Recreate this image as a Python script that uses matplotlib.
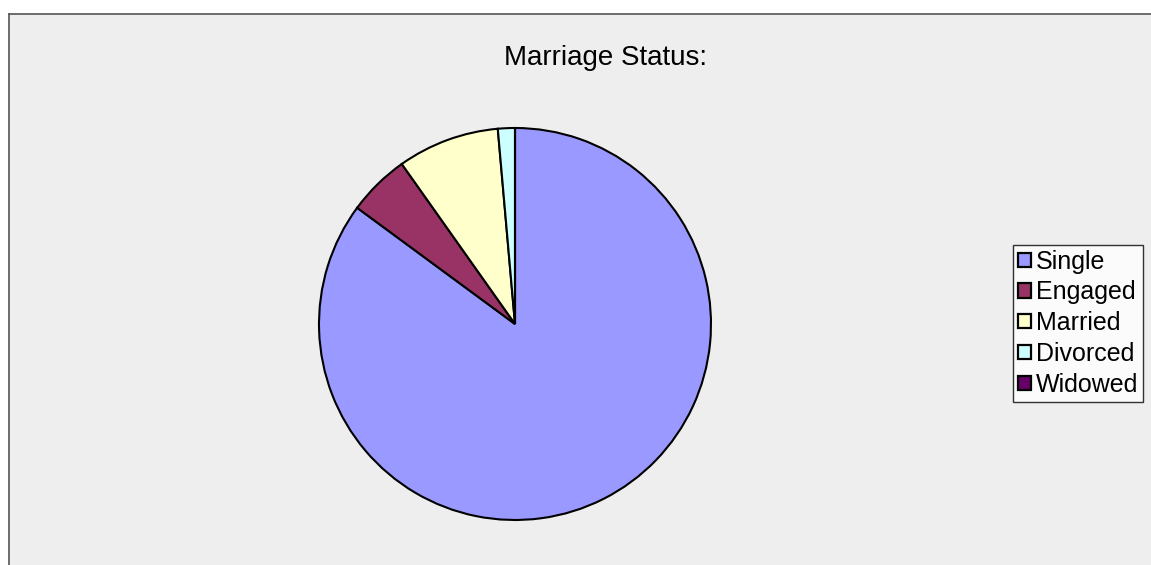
import matplotlib
matplotlib.use("Agg")
import matplotlib.pyplot as plt
from matplotlib.patches import Patch

plt.rcParams['font.family'] = ['Liberation Sans', 'DejaVu Sans']

# Marriage status shares (percent)
labels = ['Single', 'Engaged', 'Married', 'Divorced', 'Widowed']
shares = [85.1, 5.1, 8.4, 1.4, 0.0]
colors = ['#9999FF', '#993366', '#FFFFCC', '#CCFFFF', '#660066']

W, H = 1151, 565
fig = plt.figure(figsize=(W / 100, H / 100), dpi=100)
fig.patch.set_facecolor('white')

# chart area background with left and top border
bg = fig.add_axes([9 / W, 0, 1, 1 - 14 / H])
bg.set_facecolor('#EEEEEE')
bg.set_xticks([])
bg.set_yticks([])
for side in ['right', 'bottom']:
    bg.spines[side].set_visible(False)
for side in ['left', 'top']:
    bg.spines[side].set_color('#555555')
    bg.spines[side].set_linewidth(1.2)

# pie axes, radius ~196 px around (515, 324)
cx, cy, r = 515, H - 324, 196
ax = fig.add_axes([(cx - r) / W, (cy - r) / H, 2 * r / W, 2 * r / H])
ax.pie(shares, colors=colors, startangle=90, counterclock=False,
       wedgeprops=dict(edgecolor='black', linewidth=1.5))
ax.set_xlim(-1, 1)
ax.set_ylim(-1, 1)
ax.set_aspect('equal')
ax.axis('off')

fig.text(605 / W, 1 - 58 / H, 'Marriage Status:', ha='center', va='center',
         fontsize=20, color='black')

handles = [Patch(facecolor=c, edgecolor='black', linewidth=1.6) for c in colors]
leg = fig.legend(handles, labels, loc='center left',
                 bbox_to_anchor=(1013 / W, 1 - 323 / H),
                 bbox_transform=fig.transFigure,
                 fontsize=18, frameon=True, fancybox=False,
                 handlelength=0.5, handleheight=0.5, handletextpad=0.2,
                 labelspacing=0.27, borderpad=0.2, borderaxespad=0)
leg.get_frame().set_edgecolor('black')
leg.get_frame().set_linewidth(1.0)
leg.get_frame().set_facecolor('white')

fig.savefig('out.png', dpi=100)
